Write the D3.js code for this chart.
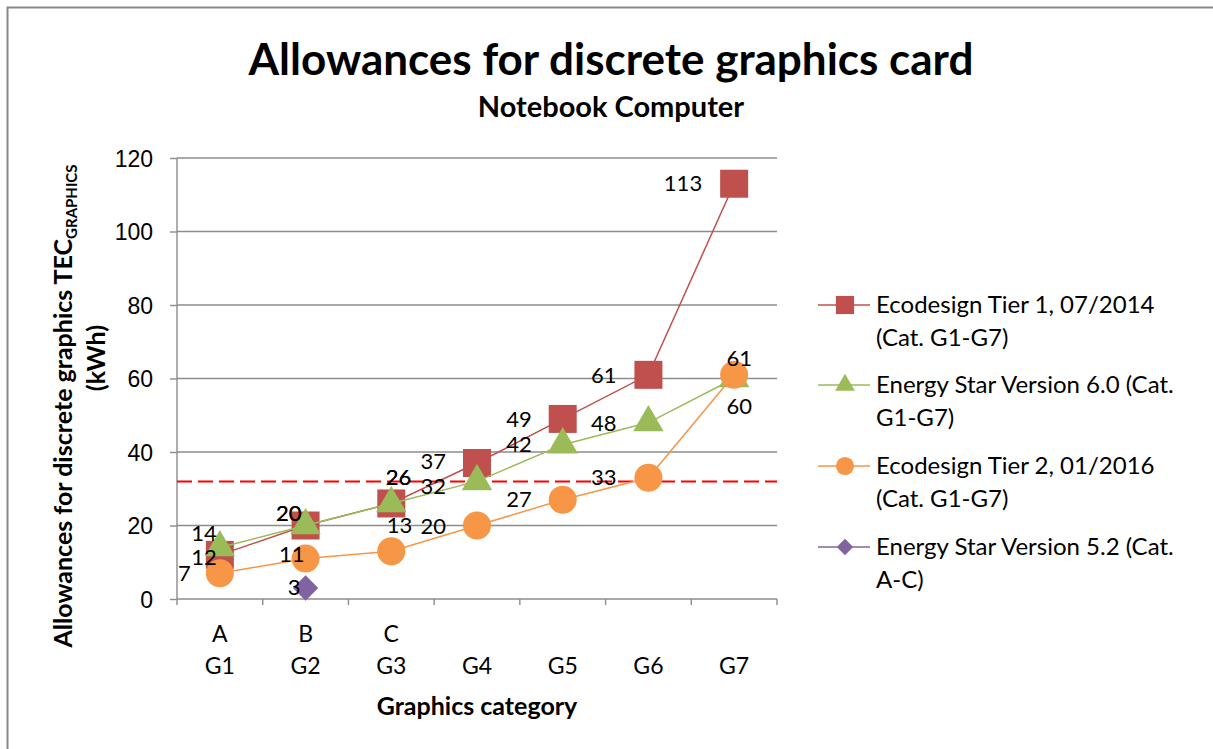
<!DOCTYPE html>
<html>
<head>
<meta charset="utf-8">
<script src="https://cdn.jsdelivr.net/npm/d3@7"></script>
<style>
  body { margin: 0; background: #fff; }
  svg { display: block; font-family: Lato, "Open Sans", sans-serif; }
  .grid line { stroke: #8c8c8c; stroke-width: 1.4; }
  .axis path, .axis line { stroke: #8c8c8c; stroke-width: 1.4; }
  .axis text { fill: #000; font-size: 23px; }
</style>
</head>
<body>
<svg id="chart" width="1213" height="749"></svg>
<script>
// categories on the x axis
const categories = ['G1', 'G2', 'G3', 'G4', 'G5', 'G6', 'G7'];
const oldCategories = ['A', 'B', 'C', '', '', '', ''];
const yTicks = [0, 20, 40, 60, 80, 100, 120];

// series values (kWh)
const tier1 = [12, 20, 26, 37, 49, 61, 113];
const energyStar6 = [14, 20, 26, 32, 42, 48, 60];
const tier2 = [7, 11, 13, 20, 27, 33, 61];
const energyStar52 = [null, 3, null, null, null, null, null];
const thresholdValue = 32;

const seriesNames = [
  ['Ecodesign Tier 1, 07/2014', '(Cat. G1-G7)'],
  ['Energy Star Version 6.0 (Cat.', 'G1-G7)'],
  ['Ecodesign Tier 2, 01/2016', '(Cat. G1-G7)'],
  ['Energy Star Version 5.2 (Cat.', 'A-C)'],
];

// label placement: [dx of label end, dy of label centre] from the point
const labelOffsets = [
  [[-3, 2], [-4, -12], [20, -26], [-31, -2], [-31, 0], [-32, 0], [-32, 0]],
  [[-3, -14], [-4, -12], [20, -26], [-31, 5], [-31, 0], [-32, 1], [18, 28]],
  [[-29, 0], [-1, -4], [21, -26], [-31, 1], [-31, 0], [-32, 0], [18, -17]],
  [null, [-5, -1], null, null, null, null, null],
];

const series = [
  {values: tier1, color: '#C0504D', symbol: d3.symbolSquare, size: 784, rot: 0},
  {values: energyStar6, color: '#9BBB59', symbol: d3.symbolTriangle, size: 400, rot: 0},
  {values: tier2, color: '#F79646', symbol: d3.symbolCircle, size: 616, rot: 0},
  {values: energyStar52, color: '#8064A2', symbol: d3.symbolSquare, size: 320, rot: 45},
];

const svg = d3.select('#chart');
const plot = {left: 177, right: 777, top: 158, bottom: 599};

// outer chart border (only top and left visible)
svg.append('rect')
    .attr('x', 7.5).attr('y', 7.5)
    .attr('width', 1300).attr('height', 900)
    .attr('fill', 'none')
    .attr('stroke', '#888')
    .attr('stroke-width', 2);

const x = d3.scaleBand()
    .domain(categories)
    .range([plot.left, plot.right])
    .padding(0);
const y = d3.scaleLinear().domain([0, 120]).range([plot.bottom, plot.top]);
const cx = i => x(categories[i]) + x.bandwidth() / 2;

// gridlines
svg.append('g')
    .attr('class', 'grid')
    .selectAll('line')
    .data(yTicks.filter(d => d > 0))
    .join('line')
    .attr('x1', plot.left).attr('x2', plot.right)
    .attr('y1', d => y(d)).attr('y2', d => y(d));

// y axis
const yAxis = svg.append('g')
    .attr('class', 'axis')
    .attr('transform', `translate(${plot.left},0)`)
    .call(d3.axisLeft(y).tickValues(yTicks).tickSize(7).tickPadding(17));
yAxis.select('.domain').attr('d', `M0,${plot.top}V${plot.bottom}`);
yAxis.selectAll('text').attr('dy', '0.35em');

// x axis: ticks at band boundaries
const xAxis = svg.append('g')
    .attr('class', 'axis')
    .attr('transform', `translate(0,${plot.bottom})`);
xAxis.append('line')
    .attr('x1', plot.left).attr('x2', plot.right);
xAxis.selectAll('.tk')
    .data(d3.range(categories.length + 1))
    .join('line')
    .attr('class', 'tk')
    .attr('x1', i => plot.left + i * x.bandwidth())
    .attr('x2', i => plot.left + i * x.bandwidth())
    .attr('y1', 0).attr('y2', 6);
xAxis.selectAll('.old')
    .data(oldCategories)
    .join('text')
    .attr('class', 'old')
    .attr('x', (d, i) => cx(i))
    .attr('y', 35)
    .attr('dy', '0.35em')
    .attr('text-anchor', 'middle')
    .text(d => d);
xAxis.selectAll('.cat')
    .data(categories)
    .join('text')
    .attr('class', 'cat')
    .attr('x', (d, i) => cx(i))
    .attr('y', 67)
    .attr('dy', '0.35em')
    .attr('text-anchor', 'middle')
    .text(d => d);

// red dashed threshold line
svg.append('line')
    .attr('x1', plot.left).attr('x2', plot.right)
    .attr('y1', y(thresholdValue)).attr('y2', y(thresholdValue))
    .attr('stroke', '#FF0000')
    .attr('stroke-width', 2)
    .attr('stroke-dasharray', '15,6');

// lines and markers
const line = d3.line()
    .defined(d => d != null)
    .x((d, i) => cx(i))
    .y(d => y(d));

series.forEach(s => {
  const g = svg.append('g');
  g.append('path')
      .attr('d', line(s.values))
      .attr('fill', 'none')
      .attr('stroke', s.color)
      .attr('stroke-width', 1.5);
  g.selectAll('path.mk')
      .data(s.values.map((v, i) => ({v, i})).filter(d => d.v != null))
      .join('path')
      .attr('class', 'mk')
      .attr('transform', d => `translate(${cx(d.i)},${y(d.v)}) rotate(${s.rot})`)
      .attr('d', d3.symbol(s.symbol, s.size))
      .attr('fill', s.color);
});

// data labels
series.forEach((s, si) => {
  svg.append('g')
      .selectAll('text')
      .data(s.values.map((v, i) => ({v, i})).filter(d => d.v != null))
      .join('text')
      .attr('x', d => cx(d.i) + labelOffsets[si][d.i][0])
      .attr('y', d => y(d.v) + labelOffsets[si][d.i][1])
      .attr('dy', '0.35em')
      .attr('text-anchor', 'end')
      .attr('font-size', 22)
      .text(d => d.v);
});

// titles
svg.append('text')
    .attr('x', 611).attr('y', 75)
    .attr('text-anchor', 'middle')
    .attr('font-size', 44)
    .attr('font-weight', 'bold')
    .text('Allowances for discrete graphics card');
svg.append('text')
    .attr('x', 611).attr('y', 117)
    .attr('text-anchor', 'middle')
    .attr('font-size', 29)
    .attr('font-weight', 'bold')
    .text('Notebook Computer');
svg.append('text')
    .attr('x', 477).attr('y', 715)
    .attr('text-anchor', 'middle')
    .attr('font-size', 25)
    .attr('font-weight', 'bold')
    .text('Graphics category');

// y axis title
const yTitle = svg.append('text')
    .attr('transform', 'translate(72,406) rotate(-90)')
    .attr('text-anchor', 'middle')
    .attr('font-size', 25)
    .attr('font-weight', 'bold');
yTitle.append('tspan').text('Allowances for discrete graphics TEC');
yTitle.append('tspan')
    .attr('font-size', 15)
    .attr('dy', 5)
    .text('GRAPHICS');
svg.append('text')
    .attr('transform', 'translate(105,358) rotate(-90)')
    .attr('text-anchor', 'middle')
    .attr('font-size', 25)
    .attr('font-weight', 'bold')
    .text('(kWh)');

// legend
const legendTop = [305, 385, 466, 547];
const legend = svg.append('g');
series.forEach((s, si) => {
  const g = legend.append('g')
      .attr('transform', `translate(0,${legendTop[si]})`);
  g.append('line')
      .attr('x1', 818).attr('x2', 870)
      .attr('stroke', s.color).attr('stroke-width', 1.5);
  g.append('path')
      .attr('transform', `translate(845,0) rotate(${s.rot})`)
      .attr('d', d3.symbol(s.symbol, s.size * 0.42))
      .attr('fill', s.color);
  g.selectAll('text')
      .data(seriesNames[si])
      .join('text')
      .attr('x', 876)
      .attr('y', (d, i) => i * 33)
      .attr('dy', '0.35em')
      .attr('font-size', 24)
      .text(d => d);
});
</script>
</body>
</html>
